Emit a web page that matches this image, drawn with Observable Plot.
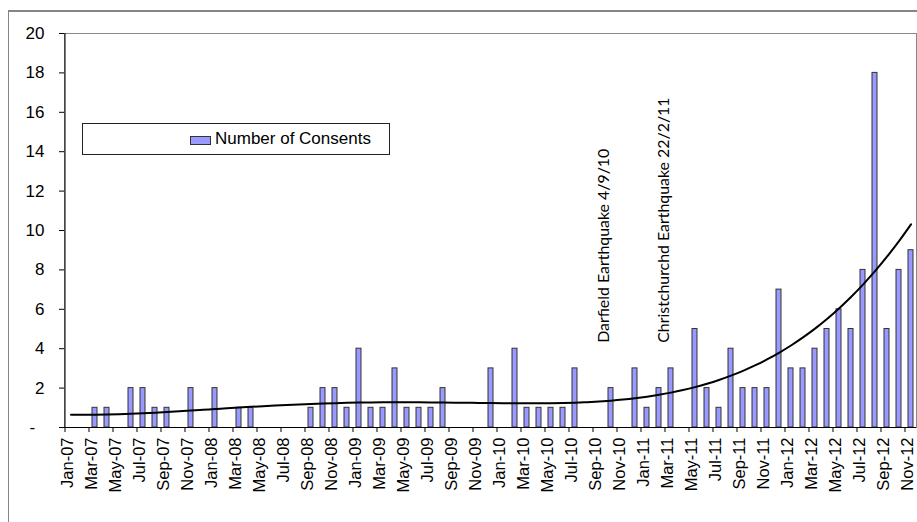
<!DOCTYPE html>
<html>
<head>
<meta charset="utf-8">
<script src="https://cdn.jsdelivr.net/npm/d3@7"></script>
<script src="https://cdn.jsdelivr.net/npm/@observablehq/plot@0.6"></script>
<style>
  html, body { margin: 0; padding: 0; background: #fff; }
  #wrap { position: relative; width: 917px; height: 522px; overflow: hidden; }
  #outer { position: absolute; left: 8px; top: 10px; width: 1000px; height: 600px;
           border-left: 1.5px solid #858585; border-top: 2px solid #858585; pointer-events: none; }
  #legend { position: absolute; left: 82px; top: 123px; width: 306px; height: 30px;
            border: 1px solid #222; background: #fff; font-family: "Liberation Sans", Arial, sans-serif; }
  #legend .sw { position: absolute; left: 107px; top: 12px; width: 19px; height: 7px;
                background: #9999ff; border: 1px solid #333; }
  #legend .lab { position: absolute; left: 132px; top: 5px; font-size: 17px; line-height: 20px; color: #000; }
</style>
</head>
<body>
<div id="wrap">
  <div id="chart"></div>
  <div id="outer"></div>
  <div id="legend"><div class="sw"></div><div class="lab">Number of Consents</div></div>
</div>
<script>
// Monthly building consents, Jan 2007 – Nov 2012
const months = [
  "Jan-07","Feb-07","Mar-07","Apr-07","May-07","Jun-07","Jul-07","Aug-07","Sep-07","Oct-07","Nov-07","Dec-07",
  "Jan-08","Feb-08","Mar-08","Apr-08","May-08","Jun-08","Jul-08","Aug-08","Sep-08","Oct-08","Nov-08","Dec-08",
  "Jan-09","Feb-09","Mar-09","Apr-09","May-09","Jun-09","Jul-09","Aug-09","Sep-09","Oct-09","Nov-09","Dec-09",
  "Jan-10","Feb-10","Mar-10","Apr-10","May-10","Jun-10","Jul-10","Aug-10","Sep-10","Oct-10","Nov-10","Dec-10",
  "Jan-11","Feb-11","Mar-11","Apr-11","May-11","Jun-11","Jul-11","Aug-11","Sep-11","Oct-11","Nov-11","Dec-11",
  "Jan-12","Feb-12","Mar-12","Apr-12","May-12","Jun-12","Jul-12","Aug-12","Sep-12","Oct-12","Nov-12"
];
const consents = [
  0,0,1,1,0,2,2,1,1,0,2,0,
  2,0,1,1,0,0,0,0,1,2,2,1,
  4,1,1,3,1,1,1,2,0,0,0,3,
  0,4,1,1,1,1,3,0,0,2,0,3,
  1,2,3,0,5,2,1,4,2,2,2,7,
  3,3,4,5,6,5,8,18,5,8,9
];
const yTicks = [0,2,4,6,8,10,12,14,16,18,20];
const quakeLabels = ["Darfield Earthquake 4/9/10", "Christchurchd Earthquake 22/2/11"];
const quakeMonths = ["Sep-10", "Feb-11"];

const rows = months.map((m, i) => ({month: m, n: i + 1, value: consents[i]}));
const xTickLabels = months.filter((m, i) => i % 2 === 0);

// least-squares polynomial trend over the month index
function polyfit(xs, ys, order) {
  const mu = d3.mean(xs), sd = d3.deviation(xs);
  const ts = xs.map(x => (x - mu) / sd);
  const k = order + 1;
  const A = Array.from({length: k}, () => new Array(k).fill(0));
  const b = new Array(k).fill(0);
  ts.forEach((t, idx) => {
    for (let r = 0; r < k; r++) {
      b[r] += ys[idx] * t ** r;
      for (let c = 0; c < k; c++) A[r][c] += t ** (r + c);
    }
  });
  for (let col = 0; col < k; col++) {
    let p = col;
    for (let r = col + 1; r < k; r++) if (Math.abs(A[r][col]) > Math.abs(A[p][col])) p = r;
    [A[col], A[p]] = [A[p], A[col]]; [b[col], b[p]] = [b[p], b[col]];
    for (let r = col + 1; r < k; r++) {
      const f = A[r][col] / A[col][col];
      for (let c = col; c < k; c++) A[r][c] -= f * A[col][c];
      b[r] -= f * b[col];
    }
  }
  const coef = new Array(k).fill(0);
  for (let r = k - 1; r >= 0; r--) {
    let s = b[r];
    for (let c = r + 1; c < k; c++) s -= A[r][c] * coef[c];
    coef[r] = s / A[r][r];
  }
  return x => { const t = (x - mu) / sd; return coef.reduce((s, c, j) => s + c * t ** j, 0); };
}

const trend = polyfit(rows.map(d => d.n), rows.map(d => d.value), 5);
const trendRows = rows.map(d => ({month: d.month, fit: trend(d.n)}));

const chart = Plot.plot({
  width: 917,
  height: 522,
  marginLeft: 64,
  marginTop: 33,
  marginRight: 1,
  marginBottom: 95,
  style: {fontFamily: "'Liberation Sans', Arial, sans-serif", fontSize: "17px", color: "#000", background: "transparent"},
  x: {type: "band", domain: months, paddingInner: 0.6, paddingOuter: 0.3, label: null},
  y: {domain: [0, 20], label: null},
  marks: [
    Plot.frame({stroke: "#888"}),
    Plot.barY(rows.filter(d => d.value > 0), {x: "month", y: "value", fill: "#9999ff", stroke: "#333", strokeWidth: 1}),
    Plot.line(trendRows, {x: "month", y: "fit", stroke: "#000", strokeWidth: 2, curve: "catmull-rom"}),
    Plot.axisY({ticks: yTicks, tickSize: 5, tickPadding: 15, fontSize: 17,
                tickFormat: d => d === 0 ? "-\u00a0\u00a0" : String(d)}),
    Plot.ruleX([months[0]], {dx: -6, stroke: "#000"}),
    Plot.ruleY([0], {stroke: "#000"}),
    Plot.axisX({ticks: xTickLabels, text: null, tickSize: 5, dx: -6}),
    Plot.axisX({ticks: xTickLabels, tickSize: 0, tickPadding: 10, tickRotate: -90, fontSize: 16.5, dx: -3}),
    Plot.text(quakeLabels, {x: (d, i) => quakeMonths[i], y: () => 4.3, text: d => d, rotate: -90,
              textAnchor: "start", dx: 5, fontFamily: "Lato, 'Noto Sans', sans-serif", fontSize: 15.9, fill: "#000"})
  ]
});
document.getElementById("chart").append(chart);
</script>
</body>
</html>
